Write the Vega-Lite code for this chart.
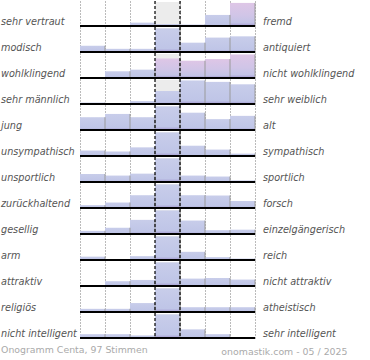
{
  "$schema": "https://vega.github.io/schema/vega-lite/v6.json",
  "background": "white",
  "padding": {"left": 1, "top": 0, "right": 0, "bottom": 0},
  "bounds": "flush",
  "title": {"text": "Onogramm Centa, 97 Stimmen", "orient": "bottom", "anchor": "start", "frame": "bounds", "offset": -9, "font": "DejaVu Sans", "fontSize": 9.4, "fontWeight": "normal", "color": "#aaaaaa"},
  "data": {"values": [
    {"order":1,"left":"sehr vertraut","right":"fremd","col":1,"value":0},
    {"order":1,"left":"sehr vertraut","right":"fremd","col":2,"value":0},
    {"order":1,"left":"sehr vertraut","right":"fremd","col":3,"value":3.5},
    {"order":1,"left":"sehr vertraut","right":"fremd","col":4,"value":2},
    {"order":1,"left":"sehr vertraut","right":"fremd","col":5,"value":1.5},
    {"order":1,"left":"sehr vertraut","right":"fremd","col":6,"value":11.5},
    {"order":1,"left":"sehr vertraut","right":"fremd","col":7,"value":24},
    {"order":2,"left":"modisch","right":"antiquiert","col":1,"value":6.5},
    {"order":2,"left":"modisch","right":"antiquiert","col":2,"value":3.3},
    {"order":2,"left":"modisch","right":"antiquiert","col":3,"value":3.3},
    {"order":2,"left":"modisch","right":"antiquiert","col":4,"value":24.5},
    {"order":2,"left":"modisch","right":"antiquiert","col":5,"value":9.7},
    {"order":2,"left":"modisch","right":"antiquiert","col":6,"value":15},
    {"order":2,"left":"modisch","right":"antiquiert","col":7,"value":16.3},
    {"order":3,"left":"wohlklingend","right":"nicht wohlklingend","col":1,"value":1},
    {"order":3,"left":"wohlklingend","right":"nicht wohlklingend","col":2,"value":7},
    {"order":3,"left":"wohlklingend","right":"nicht wohlklingend","col":3,"value":8.7},
    {"order":3,"left":"wohlklingend","right":"nicht wohlklingend","col":4,"value":20.3},
    {"order":3,"left":"wohlklingend","right":"nicht wohlklingend","col":5,"value":18},
    {"order":3,"left":"wohlklingend","right":"nicht wohlklingend","col":6,"value":19.7},
    {"order":3,"left":"wohlklingend","right":"nicht wohlklingend","col":7,"value":24.5},
    {"order":4,"left":"sehr männlich","right":"sehr weiblich","col":1,"value":1.5},
    {"order":4,"left":"sehr männlich","right":"sehr weiblich","col":2,"value":0.5},
    {"order":4,"left":"sehr männlich","right":"sehr weiblich","col":3,"value":3},
    {"order":4,"left":"sehr männlich","right":"sehr weiblich","col":4,"value":13.5},
    {"order":4,"left":"sehr männlich","right":"sehr weiblich","col":5,"value":24.5},
    {"order":4,"left":"sehr männlich","right":"sehr weiblich","col":6,"value":23},
    {"order":4,"left":"sehr männlich","right":"sehr weiblich","col":7,"value":20.5},
    {"order":5,"left":"\u2007jung","right":"alt","col":1,"value":13.3},
    {"order":5,"left":"\u2007jung","right":"alt","col":2,"value":16.7},
    {"order":5,"left":"\u2007jung","right":"alt","col":3,"value":13.3},
    {"order":5,"left":"\u2007jung","right":"alt","col":4,"value":24.5},
    {"order":5,"left":"\u2007jung","right":"alt","col":5,"value":18},
    {"order":5,"left":"\u2007jung","right":"alt","col":6,"value":11.3},
    {"order":5,"left":"\u2007jung","right":"alt","col":7,"value":14.7},
    {"order":6,"left":"unsympathisch","right":"sympathisch","col":1,"value":5.7},
    {"order":6,"left":"unsympathisch","right":"sympathisch","col":2,"value":4.7},
    {"order":6,"left":"unsympathisch","right":"sympathisch","col":3,"value":9},
    {"order":6,"left":"unsympathisch","right":"sympathisch","col":4,"value":24.5},
    {"order":6,"left":"unsympathisch","right":"sympathisch","col":5,"value":10.7},
    {"order":6,"left":"unsympathisch","right":"sympathisch","col":6,"value":6.7},
    {"order":6,"left":"unsympathisch","right":"sympathisch","col":7,"value":2.5},
    {"order":7,"left":"unsportlich","right":"sportlich","col":1,"value":8.3},
    {"order":7,"left":"unsportlich","right":"sportlich","col":2,"value":6.7},
    {"order":7,"left":"unsportlich","right":"sportlich","col":3,"value":8.7},
    {"order":7,"left":"unsportlich","right":"sportlich","col":4,"value":24.5},
    {"order":7,"left":"unsportlich","right":"sportlich","col":5,"value":6.7},
    {"order":7,"left":"unsportlich","right":"sportlich","col":6,"value":5.7},
    {"order":7,"left":"unsportlich","right":"sportlich","col":7,"value":1.7},
    {"order":8,"left":"zurückhaltend","right":"forsch","col":1,"value":3},
    {"order":8,"left":"zurückhaltend","right":"forsch","col":2,"value":5.7},
    {"order":8,"left":"zurückhaltend","right":"forsch","col":3,"value":13.3},
    {"order":8,"left":"zurückhaltend","right":"forsch","col":4,"value":24.5},
    {"order":8,"left":"zurückhaltend","right":"forsch","col":5,"value":13.3},
    {"order":8,"left":"zurückhaltend","right":"forsch","col":6,"value":13},
    {"order":8,"left":"zurückhaltend","right":"forsch","col":7,"value":7.3},
    {"order":9,"left":"gesellig","right":"einzelgängerisch","col":1,"value":3.3},
    {"order":9,"left":"gesellig","right":"einzelgängerisch","col":2,"value":6.5},
    {"order":9,"left":"gesellig","right":"einzelgängerisch","col":3,"value":14.7},
    {"order":9,"left":"gesellig","right":"einzelgängerisch","col":4,"value":24.5},
    {"order":9,"left":"gesellig","right":"einzelgängerisch","col":5,"value":14},
    {"order":9,"left":"gesellig","right":"einzelgängerisch","col":6,"value":4},
    {"order":9,"left":"gesellig","right":"einzelgängerisch","col":7,"value":4.5},
    {"order":10,"left":"arm","right":"reich","col":1,"value":3.5},
    {"order":10,"left":"arm","right":"reich","col":2,"value":0},
    {"order":10,"left":"arm","right":"reich","col":3,"value":4},
    {"order":10,"left":"arm","right":"reich","col":4,"value":24.5},
    {"order":10,"left":"arm","right":"reich","col":5,"value":8.5},
    {"order":10,"left":"arm","right":"reich","col":6,"value":3},
    {"order":10,"left":"arm","right":"reich","col":7,"value":1.5},
    {"order":11,"left":"attraktiv","right":"nicht attraktiv","col":1,"value":0},
    {"order":11,"left":"attraktiv","right":"nicht attraktiv","col":2,"value":5},
    {"order":11,"left":"attraktiv","right":"nicht attraktiv","col":3,"value":6.3},
    {"order":11,"left":"attraktiv","right":"nicht attraktiv","col":4,"value":24.5},
    {"order":11,"left":"attraktiv","right":"nicht attraktiv","col":5,"value":7.7},
    {"order":11,"left":"attraktiv","right":"nicht attraktiv","col":6,"value":8.3},
    {"order":11,"left":"attraktiv","right":"nicht attraktiv","col":7,"value":6.7},
    {"order":12,"left":"religiös","right":"atheistisch","col":1,"value":3.3},
    {"order":12,"left":"religiös","right":"atheistisch","col":2,"value":3.3},
    {"order":12,"left":"religiös","right":"atheistisch","col":3,"value":9.3},
    {"order":12,"left":"religiös","right":"atheistisch","col":4,"value":24.5},
    {"order":12,"left":"religiös","right":"atheistisch","col":5,"value":5},
    {"order":12,"left":"religiös","right":"atheistisch","col":6,"value":5},
    {"order":12,"left":"religiös","right":"atheistisch","col":7,"value":5},
    {"order":13,"left":"nicht intelligent","right":"sehr intelligent","col":1,"value":4},
    {"order":13,"left":"nicht intelligent","right":"sehr intelligent","col":2,"value":4},
    {"order":13,"left":"nicht intelligent","right":"sehr intelligent","col":3,"value":2.7},
    {"order":13,"left":"nicht intelligent","right":"sehr intelligent","col":4,"value":24.5},
    {"order":13,"left":"nicht intelligent","right":"sehr intelligent","col":5,"value":9},
    {"order":13,"left":"nicht intelligent","right":"sehr intelligent","col":6,"value":4},
    {"order":13,"left":"nicht intelligent","right":"sehr intelligent","col":7,"value":0}
  ]},
  "facet": {"row": {"field": "order", "type": "ordinal", "header": null}},
  "spacing": {"row": 1},
  "spec": {
    "width": 175,
    "height": 25,
    "layer": [
      {
        "transform": [{"filter": "datum.col == 4"}],
        "mark": {"type": "bar", "color": "#ececec"},
        "encoding": {
          "x": {"field": "col", "type": "ordinal", "scale": {"paddingInner": 0, "paddingOuter": 0},
            "axis": {"grid": true, "tickBand": "extent", "gridDash": [1, 2], "gridColor": "#777777", "gridWidth": 1, "labels": false, "ticks": false, "domain": false,
              "title": "onomastik.com - 05 / 2025", "titleX": 267, "titleY": 16, "titleAlign": "right", "titleBaseline": "alphabetic",
              "titleFont": "DejaVu Sans", "titleFontSize": 9.4, "titleFontWeight": "normal", "titleColor": "#aaaaaa"}},
          "y": {"datum": 25, "type": "quantitative", "scale": {"domain": [0, 25]}, "axis": null}
        }
      },
      {
        "mark": {"type": "bar"},
        "encoding": {
          "x": {"field": "col", "type": "ordinal"},
          "y": {"field": "value", "type": "quantitative"},
          "color": {
            "condition": {"test": "(datum.order == 1 && datum.col == 7) || (datum.order == 3 && datum.col >= 4)",
              "value": {"gradient": "linear", "x1": 0, "y1": 0, "x2": 0, "y2": 1, "stops": [{"offset": 0, "color": "#dec6e6"}, {"offset": 0.55, "color": "#d0c5e7"}, {"offset": 0.86, "color": "#c3c3e6"}, {"offset": 1, "color": "#a297cf"}]}},
            "value": {"gradient": "linear", "x1": 0, "y1": 0, "x2": 0, "y2": 1, "stops": [{"offset": 0, "color": "#c8cdea"}, {"offset": 0.86, "color": "#bfc5e7"}, {"offset": 1, "color": "#a297cf"}]}
          }
        }
      },
      {
        "transform": [{"filter": "datum.value > 0"}],
        "mark": {"type": "rule", "color": "#9a9a9a", "strokeWidth": 1},
        "encoding": {
          "x": {"field": "col", "type": "ordinal", "bandPosition": 1},
          "y": {"field": "value", "type": "quantitative"},
          "y2": {"datum": 0}
        }
      },
      {
        "transform": [{"filter": "datum.col == 4"}],
        "mark": {"type": "rule", "color": "#000000", "strokeWidth": 1.2, "strokeDash": [3, 2]},
        "encoding": {"x": {"field": "col", "type": "ordinal", "bandPosition": 0}}
      },
      {
        "transform": [{"filter": "datum.col == 4"}],
        "mark": {"type": "rule", "color": "#000000", "strokeWidth": 1.2, "strokeDash": [3, 2]},
        "encoding": {"x": {"field": "col", "type": "ordinal", "bandPosition": 1}}
      },
      {
        "transform": [{"filter": "datum.col == 1"}],
        "mark": {"type": "rule", "color": "#000000", "strokeWidth": 1.8},
        "encoding": {"y": {"datum": 0, "type": "quantitative"}}
      },
      {
        "transform": [{"filter": "datum.col == 1"}],
        "mark": {"type": "text", "align": "left", "baseline": "alphabetic", "dx": -79, "dy": -1, "font": "DejaVu Sans", "fontSize": 9.7, "fontStyle": "italic", "color": "#555555"},
        "encoding": {
          "x": {"field": "col", "type": "ordinal", "bandPosition": 0},
          "y": {"datum": 0, "type": "quantitative"},
          "text": {"field": "left"}
        }
      },
      {
        "transform": [{"filter": "datum.col == 7"}],
        "mark": {"type": "text", "align": "left", "baseline": "alphabetic", "dx": 8, "dy": -1, "font": "DejaVu Sans", "fontSize": 9.7, "fontStyle": "italic", "color": "#555555"},
        "encoding": {
          "x": {"field": "col", "type": "ordinal", "bandPosition": 1},
          "y": {"datum": 0, "type": "quantitative"},
          "text": {"field": "right"}
        }
      }
    ]
  },
  "config": {"view": {"stroke": null}}
}
